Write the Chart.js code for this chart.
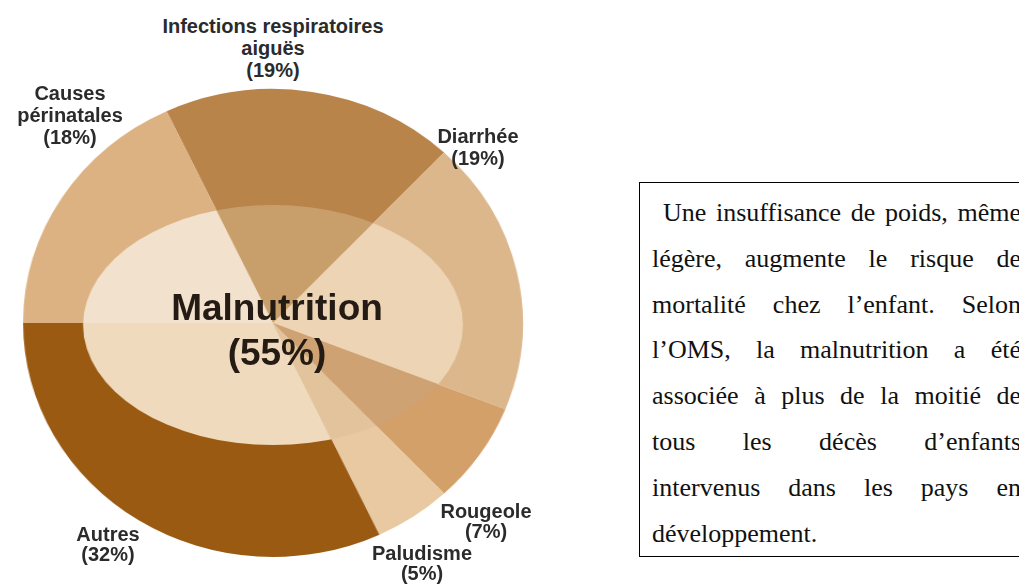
<!DOCTYPE html>
<html>
<head>
<meta charset="utf-8">
<script src="https://cdn.jsdelivr.net/npm/chart.js@4/dist/chart.umd.min.js"></script>
<style>
  html, body { margin: 0; padding: 0; background: #fff; }
  body { width: 1019px; height: 585px; position: relative; overflow: hidden; }
  .pie-wrap {
    position: absolute; left: 33px; top: 83px; width: 480px; height: 480px;
    transform: scaleX(1.068); transform-origin: 50% 50%;
  }
  .lbl {
    position: absolute; transform: translateX(-50%); white-space: pre; text-align: center;
    font-family: "Liberation Sans", Arial, sans-serif; font-weight: bold; font-size: 20px;
    color: #2b2b2b;
  }
  .center-lbl {
    position: absolute; left: 277px; top: 285px; transform: translateX(-50%);
    white-space: pre; text-align: center;
    font-family: "Liberation Sans", Arial, sans-serif; font-weight: bold; font-size: 37px;
    line-height: 45px; color: #241c14;
  }
  .note {
    position: absolute; left: 639px; top: 182px; width: 400px; height: 375px;
    border: 1px solid #000; box-sizing: border-box;
    padding: 7px 0 0 12px;
    font-family: "Liberation Serif", "Times New Roman", serif; font-size: 26px; color: #111;
  }
  .note div { width: 369px; line-height: 45.8px; white-space: nowrap; text-align: left; }
  .note div.j { text-align: justify; text-align-last: justify; }
</style>
</head>
<body>
<div class="pie-wrap"><canvas id="pie"></canvas></div>
<div id="labels"></div>
<div class="center-lbl" id="center"></div>
<div class="note" id="note"></div>

<script>
// data
const categories = ['Infections respiratoires\naiguës', 'Diarrhée', 'Rougeole', 'Paludisme', 'Autres', 'Causes\npérinatales'];
const shares = [19, 19, 7, 5, 32, 18];
const centerName = 'Malnutrition';
const centerShare = 55;
const noteLines = [
  'Une insuffisance de poids, même',
  'légère, augmente le risque de',
  'mortalité chez l’enfant. Selon',
  'l’OMS, la malnutrition a été',
  'associée à plus de la moitié de',
  'tous les décès d’enfants',
  'intervenus dans les pays en',
  'développement.'
];

// styles
const outerColors = ['#b8844a', '#dcb78c', '#d4a06a', '#e8c9a1', '#9a5a12', '#dcb283'];
const innerColors = ['#c89f6b', '#ecd4b4', '#cfa273', '#e2c39b', '#efdabd', '#f2e1cc'];
// label placement: centre x, top, line height
const labelPos = [
  [273, 15, 22], [478, 125, 22], [486, 501, 20],
  [422, 543, 20], [108, 524, 20], [70, 82, 22]
];

const labelsBox = document.getElementById('labels');
categories.forEach((name, i) => {
  const el = document.createElement('div');
  el.className = 'lbl';
  el.textContent = `${name}\n(${shares[i]}%)`;
  el.style.left = labelPos[i][0] + 'px';
  el.style.top = labelPos[i][1] + 'px';
  el.style.lineHeight = labelPos[i][2] + 'px';
  labelsBox.appendChild(el);
});
document.getElementById('center').textContent = `${centerName}\n(${centerShare}%)`;

const note = document.getElementById('note');
noteLines.forEach((line, i) => {
  const el = document.createElement('div');
  el.textContent = line;
  if (i < noteLines.length - 1) el.className = 'j';
  if (i === 0) el.style.textIndent = '11px';
  note.appendChild(el);
});

// lighter inner ellipse ("malnutrition" share of each cause)
const innerEllipse = {
  id: 'innerEllipse',
  afterDatasetsDraw(chart) {
    const ctx = chart.ctx;
    const meta = chart.getDatasetMeta(0);
    if (!meta.data.length) return;
    const { x, y, outerRadius } = meta.data[0].getProps(['x', 'y', 'outerRadius'], true);
    ctx.save();
    ctx.beginPath();
    ctx.ellipse(x, y + 2, outerRadius * 0.76, outerRadius * 0.513, 0, 0, Math.PI * 2);
    ctx.clip();
    meta.data.forEach((arc, i) => {
      const p = arc.getProps(['startAngle', 'endAngle'], true);
      ctx.beginPath();
      ctx.moveTo(x, y);
      ctx.arc(x, y, outerRadius, p.startAngle, p.endAngle);
      ctx.closePath();
      ctx.fillStyle = innerColors[i];
      ctx.fill();
    });
    ctx.restore();
  }
};

new Chart(document.getElementById('pie'), {
  type: 'pie',
  data: {
    labels: categories.map(c => c.replace('\n', ' ')),
    datasets: [{
      data: shares,
      backgroundColor: outerColors,
      borderWidth: 0
    }]
  },
  options: {
    responsive: true,
    maintainAspectRatio: false,
    animation: false,
    rotation: -25.2,
    layout: { padding: 6 },
    plugins: {
      legend: { display: false },
      tooltip: { enabled: false }
    }
  },
  plugins: [innerEllipse]
});
</script>
</body>
</html>
